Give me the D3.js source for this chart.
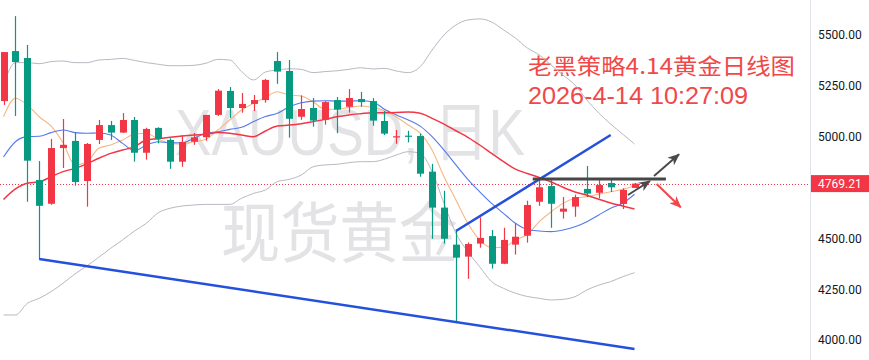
<!DOCTYPE html>
<html><head><meta charset="utf-8">
<script src="https://cdn.jsdelivr.net/npm/d3@7"></script>
<style>html,body{margin:0;padding:0;background:#fff;overflow:hidden}</style>
</head><body><svg id="c" width="869" height="360"></svg>
<script>
// ---- data (XAUUSD daily) ----
const opens  = [5175,5421,5387,4787,4670,4944,4979,4782,4984,5057,5020,5082,4921,5043,4984,4877,4975,4997,5107,5225,5141,5161,5180,5372,5323,5098,5141,5083,5180,5147,5185,5175,5077,4997,5005,5003,4828,4651,4469,4410,4474,4511,4375,4469,4513,4680,4757,4631,4656,4743,4724,4772,4669,4748];
const highs  = [5416,5593,5451,4880,4989,5087,5021,4969,5082,5077,5116,5097,5044,5046,4992,5008,5018,5107,5234,5244,5215,5205,5284,5416,5377,5203,5190,5175,5195,5234,5220,5190,5126,5033,5029,5015,4866,4734,4536,4480,4603,4541,4552,4575,4685,4787,4787,4703,4715,4856,4787,4787,4746,4772];
const lows   = [5156,5102,4680,4398,4665,4846,4759,4656,4964,4984,5018,4877,4887,4967,4842,4852,4960,4980,5102,5092,5118,5126,5167,5260,4995,5083,5049,5059,5017,5118,5147,5054,5008,4965,4972,4803,4498,4474,4093,4301,4454,4351,4373,4420,4479,4660,4552,4597,4606,4703,4697,4728,4644,4748];
const closes = [5416,5367,4882,4660,4944,4960,4777,4964,5057,5020,5082,4921,5038,4989,4877,4974,4997,5107,5226,5141,5161,5180,5279,5320,5088,5136,5079,5170,5133,5190,5170,5079,5015,5002,5002,4818,4651,4498,4405,4472,4502,4375,4492,4508,4664,4751,4670,4646,4703,4720,4762,4751,4738,4769.21];

const maOrange = [5098,5189,5156,5098,5052,4970,4861,4875,4943,4959,4984,5012,5017,4987,4967,4964,4975,4987,5033,5082,5131,5164,5193,5221,5205,5200,5172,5135,5135,5144,5151,5144,5128,5097,5057,5017,4934,4803,4689,4574,4492,4454,4456,4492,4519,4582,4631,4672,4697,4705,4717,4729,4741,4757];
const maBlue   = [4900,4975,5000,5002,5020,5033,5020,5017,5018,5008,4967,4931,4959,4975,4970,4970,4992,5017,5024,5036,5046,5074,5099,5115,5147,5167,5175,5177,5175,5175,5177,5172,5135,5107,5082,5052,5000,4934,4861,4790,4729,4672,4623,4574,4543,4536,4533,4541,4557,4582,4615,4648,4672,4717];
const maRed    = [4691,4743,4771,4777,4803,4828,4844,4866,4894,4918,4934,4951,4984,4990,4997,5003,5008,5012,5020,5017,5008,5000,5028,5052,5057,5064,5074,5085,5098,5107,5113,5118,5118,5119,5121,5115,5090,5062,5029,4997,4959,4918,4877,4840,4819,4800,4777,4751,4728,4712,4692,4674,4659,4644];
const bollUpper = [5254,5364,5364,5359,5369,5372,5364,5364,5377,5380,5385,5375,5364,5356,5349,5349,5351,5361,5380,5377,5320,5279,5318,5328,5334,5331,5315,5320,5324,5331,5339,5333,5336,5323,5315,5344,5426,5500,5549,5574,5579,5564,5525,5485,5436,5402,5352,5303,5254,5180,5116,5062,5013,4964];
const bollLower = [4123,4123,4180,4205,4238,4279,4325,4364,4407,4451,4492,4536,4574,4626,4648,4659,4664,4667,4667,4667,4697,4721,4738,4779,4790,4811,4852,4861,4864,4872,4877,4877,4889,4910,4926,4918,4828,4672,4525,4434,4360,4287,4254,4230,4214,4205,4197,4200,4213,4246,4270,4287,4311,4331];

const tickValues = [5500,5250,5000,4500,4250,4000];
const tickLabels = ["5500.00","5250.00","5000.00","4500.00","4250.00","4000.00"];
const lastPrice = 4769.21;
const lastPriceLabel = "4769.21";

// annotation lines in (bar index, price)
const supportLine = [[3,4398],[53,3956]];
const risingLine  = [[38,4536],[51,5008]];
const resistLine  = [[44.45,4792],[55.64,4792]];
const arrowSmall  = [[52.45,4713],[54.3,4782]];
const arrowUp     = [[54.64,4807],[56.74,4913]];
const arrowDown   = [[54.86,4767],[56.88,4653]];

const titleLine1 = "老黑策略4.14黄金日线图";
const titleLine2 = "2026-4-14 10:27:09";
const wm1 = "XAUUSD, 日K";
const wm2 = "现货黄金";

// ---- drawing ----
const svg = d3.select('#c');
const plotRight = 810;
const x = d3.scaleLinear().domain([0, 53]).range([3.5, 634.5]);
const y = d3.scaleLinear().domain([4000, 5500]).range([340, 35]);

const defs = svg.append('defs');
defs.append('clipPath').attr('id','plot').append('rect').attr('x',0).attr('y',0).attr('width',plotRight).attr('height',360);
function marker(id,color){
  defs.append('marker').attr('id',id).attr('viewBox','0 0 12 10').attr('refX',11).attr('refY',5)
    .attr('markerWidth',12).attr('markerHeight',10).attr('markerUnits','userSpaceOnUse').attr('orient','auto')
    .append('path').attr('d','M0,0 L12,5 L0,10 L3.5,5 Z').attr('fill',color);
}
marker('arrDark','#4a4a4a');
marker('arrRed','#f0474a');

const plot = svg.append('g').attr('clip-path','url(#plot)');

// watermark (narrow, tall lettering: scaled vertically)
plot.append('text').attr('transform','translate(175,155) scale(1,1.17)').attr('font-size',55)
  .attr('font-family','"Liberation Sans","Noto Sans CJK SC",sans-serif')
  .attr('textLength',350).attr('lengthAdjust','spacingAndGlyphs')
  .attr('fill','#e3e3e6').text(wm1);
plot.append('text').attr('transform','translate(221,257) scale(1,1.12)').attr('font-size',59)
  .attr('font-family','"Noto Sans CJK SC",sans-serif')
  .attr('textLength',237).attr('lengthAdjust','spacingAndGlyphs')
  .attr('fill','#e3e3e6').text(wm2);

// title
plot.append('text').attr('x',528).attr('y',74).attr('font-size',22)
  .attr('font-family','"Noto Sans CJK SC",sans-serif').attr('fill','#f04848')
  .attr('textLength',267).attr('lengthAdjust','spacingAndGlyphs').text(titleLine1);
plot.append('text').attr('x',528).attr('y',104).attr('font-size',24)
  .attr('font-family','"Liberation Sans",Arial,sans-serif').attr('fill','#f04848')
  .attr('textLength',220).attr('lengthAdjust','spacingAndGlyphs').text(titleLine2);

// last price dotted line
plot.append('line').attr('x1',0).attr('x2',plotRight).attr('y1',Math.round(y(lastPrice))+0.5).attr('y2',Math.round(y(lastPrice))+0.5)
  .attr('stroke','#f23645').attr('stroke-width',1).attr('stroke-dasharray','1,2');

const line = d3.line().x((d,i)=>x(i)).y(d=>y(d)).curve(d3.curveMonotoneX);
function series(arr,color,w){
  plot.append('path').datum(arr).attr('d',line).attr('fill','none').attr('stroke',color).attr('stroke-width',w);
}
series(bollUpper,'#b7b9c2',1);
series(bollLower,'#b7b9c2',1);
series(maOrange,'#f7b784',1.1);
series(maBlue,'#5479ee',1.1);
series(maRed,'#f23645',1.5);

// candles
const idx = d3.range(closes.length);
const cg = plot.append('g').selectAll('g').data(idx).join('g');
const col = i => closes[i] >= opens[i] ? '#f23645' : '#089981';
cg.append('line')
  .attr('x1',i=>Math.round(x(i))+0.5).attr('x2',i=>Math.round(x(i))+0.5)
  .attr('y1',i=>y(highs[i])).attr('y2',i=>y(lows[i]))
  .attr('stroke',col).attr('stroke-width',1.2);
cg.append('rect')
  .attr('x',i=>Math.round(x(i))-3).attr('width',7)
  .attr('y',i=>y(Math.max(opens[i],closes[i])))
  .attr('height',i=>Math.max(1.2, y(Math.min(opens[i],closes[i]))-y(Math.max(opens[i],closes[i]))))
  .attr('fill',col);

// annotations
function seg(pts,color,w,mk){
  const p = plot.append('line')
    .attr('x1',x(pts[0][0])).attr('y1',y(pts[0][1]))
    .attr('x2',x(pts[1][0])).attr('y2',y(pts[1][1]))
    .attr('stroke',color).attr('stroke-width',w).attr('stroke-linecap','butt');
  if(mk) p.attr('marker-end',`url(#${mk})`);
}
seg(supportLine,'#2450dc',2.5);
seg(risingLine,'#2450dc',2.5);
seg(resistLine,'#474747',3);
seg(arrowSmall,'#4a4a4a',2,'arrDark');
seg(arrowUp,'#4a4a4a',2,'arrDark');
seg(arrowDown,'#f0474a',2,'arrRed');

// right price axis
svg.append('line').attr('x1',plotRight+0.5).attr('x2',plotRight+0.5).attr('y1',0).attr('y2',360)
  .attr('stroke','#e0e3eb').attr('stroke-width',1);
const axis = d3.axisRight(y).tickValues(tickValues).tickSize(0).tickPadding(8)
  .tickFormat((d,i)=>tickLabels[i]);
const ag = svg.append('g').attr('transform',`translate(${plotRight},0)`).call(axis);
ag.select('.domain').remove();
ag.selectAll('text').attr('font-size',12).attr('font-family','Roboto,"Liberation Sans",sans-serif').attr('fill','#131722');

const ly = y(lastPrice);
svg.append('rect').attr('x',plotRight+1).attr('y',ly-8.5).attr('width',869-plotRight-1).attr('height',17).attr('fill','#f23645');
svg.append('text').attr('x',plotRight+8).attr('y',ly).attr('dy','0.35em').attr('font-size',12)
  .attr('font-family','Roboto,"Liberation Sans",sans-serif').attr('fill','#fff').text(lastPriceLabel);
</script>
</body></html>
